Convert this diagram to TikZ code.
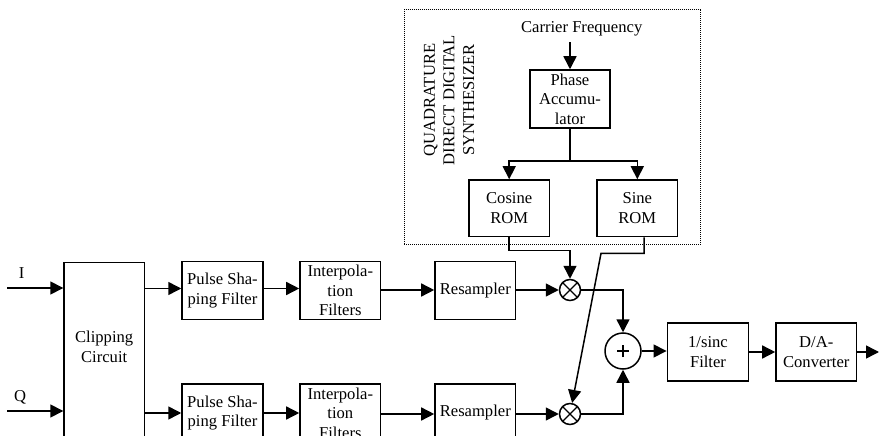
\documentclass[tikz,border=0pt]{standalone}
\usepackage{fontspec}
\setmainfont{Liberation Serif}
\usetikzlibrary{arrows.meta,calc}
\tikzset{
  blk/.style={draw, line width=1.5pt, minimum width=81pt, minimum height=58pt, inner sep=0pt, align=center, font=\fontsize{16.6}{19.6}\selectfont},
  txt/.style={inner sep=0pt, align=center, font=\fontsize{16.6}{19.6}\selectfont},
  arr/.style={line width=1.5pt, -{Triangle[length=13pt,width=13pt]}},
  mult/.style={draw, circle, line width=1.5pt, minimum size=21pt, inner sep=0pt,
    path picture={\draw[line width=1.2pt] (path picture bounding box.north west) -- (path picture bounding box.south east)
      (path picture bounding box.north east) -- (path picture bounding box.south west);}},
  adder/.style={draw, circle, line width=1.5pt, minimum size=36pt, inner sep=0pt,
    path picture={\draw[line width=1.2pt] ([xshift=-6pt]path picture bounding box.center) -- ([xshift=6pt]path picture bounding box.center)
      ([yshift=-6pt]path picture bounding box.center) -- ([yshift=6pt]path picture bounding box.center);}},
  dotbox/.style={draw, line width=1pt, dash pattern=on 1pt off 1pt, inner sep=0pt},
}
\begin{document}
\begin{tikzpicture}[x=1pt,y=-1pt]
\useasboundingbox (0,0) rectangle (879,436);
\fill[white] (0,0) rectangle (879,436);
\clip (0,0) rectangle (879,436);

% QDDS
\node[dotbox, minimum width=296.7pt, minimum height=234pt] (qdds) at (552.35,127) {};
\node[txt, rotate=90] (qddslbl) at (449,100) {QUADRATURE\\DIRECT DIGITAL\\SYNTHESIZER};
\node[txt] (carrier) at (581.7,29) {Carrier Frequency};
\node[blk, minimum width=80pt, minimum height=58pt] (ph) at (570,99) {Phase\\Accumu-\\lator};
\node[blk, minimum width=80.3pt, minimum height=56.7pt] (cos) at (509.2,208.3) {Cosine\\ROM};
\node[blk, minimum width=80.3pt, minimum height=56.7pt] (sin) at (637.3,208.3) {Sine\\ROM};

% Clipping
\node[draw, line width=1.5pt, minimum width=80.3pt, minimum height=190pt, inner sep=0pt] (clip) at (104.2,357.7) {};
\node[txt] (cliptxt) at (104.2,346.7) {Clipping\\Circuit};
\node[txt] (lblI) at (21.7,273) {I};
\node[txt] (lblQ) at (20,397) {Q};
\coordinate (inI) at (7,288);
\coordinate (inQ) at (7,411);

% top row
\node[blk] (ps1) at (222.5,290.5) {Pulse Sha-\\ping Filter};
\node[blk, minimum width=80.7pt] (ip1) at (340.3,290.5) {Interpola-\\tion\\Filters};
\node[blk, minimum width=80.7pt] (rs1) at (475.3,290.5) {Resampler};
\node[mult] (m1) at (570,290) {};
% bottom row
\node[blk] (ps2) at (222.5,413) {Pulse Sha-\\ping Filter};
\node[blk, minimum width=80.7pt] (ip2) at (340.3,413) {Interpola-\\tion\\Filters};
\node[blk, minimum width=80.7pt] (rs2) at (475.3,413) {Resampler};
\node[mult] (m2) at (570,414) {};

\node[adder] (add) at (623,351) {};
\node[blk, minimum width=81.4pt, minimum height=57.7pt] (sinc) at (708,352) {1/sinc\\Filter};
\node[blk, minimum width=80.7pt, minimum height=57.7pt] (da) at (816.3,352) {D/A-\\Converter};
\coordinate (out) at (879,352);

% connectors
\draw[arr] (inI) -- (inI -| clip.west);
\draw[arr] (inQ) -- (inQ -| clip.west);
\draw[arr] (clip.east |- 0,288.5) -- (ps1.west |- 0,288.5);
\draw[arr] (clip.east |- 0,413) -- (ps2.west |- 0,413);
\draw[arr] (ps1.east |- 0,288.5) -- (ip1.west |- 0,288.5);
\draw[arr] (ps2.east) -- (ip2.west);
\draw[arr] (ip1.east |- m1) -- (rs1.west |- m1);
\draw[arr] (ip2.east |- m2) -- (rs2.west |- m2);
\draw[arr] (rs1.east |- m1) -- (m1.west);
\draw[arr] (rs2.east |- m2) -- (m2.west);
\draw[arr] (m1.east) -| (add.north);
\draw[arr] (m2.east) -| (add.south);
\draw[arr] (add.east) -- (sinc.west |- add.east);
\draw[arr] (sinc.east) -- (da.west);
\draw[arr] (da.east) -- (out);

\draw[arr] (carrier.south -| ph.north) ++(0,6) -- (ph.north);
\draw[arr] (ph.south) -- ++(0,32) -| (cos.north);
\draw[arr] (ph.south) -- ++(0,32) -| (sin.north);
\draw[arr] (cos.south) -- ++(0,13) -| (m1.north);
\draw[arr] ([xshift=6.7pt]sin.south) -- ++(0,16) -- ++(-43,0) -- (m2);
\end{tikzpicture}
\end{document}
